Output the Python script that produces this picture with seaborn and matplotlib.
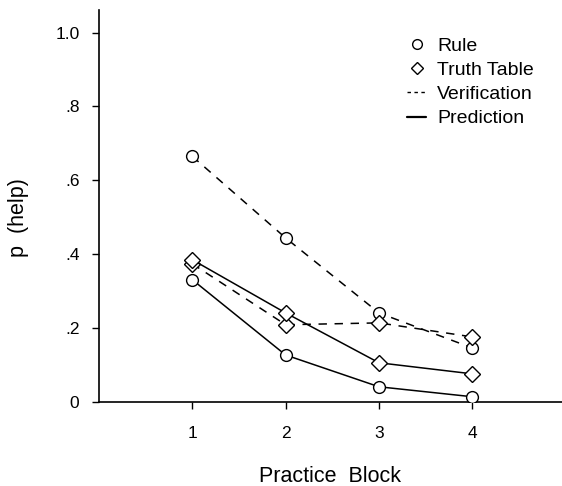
import numpy as np
import matplotlib
matplotlib.use('Agg')
import matplotlib.pyplot as plt
import seaborn as sns
from matplotlib.lines import Line2D

sns.set_theme(style="white")
plt.rcParams['font.family'] = ['Liberation Sans', 'DejaVu Sans']
plt.rcParams['text.color'] = 'black'
plt.rcParams['axes.labelcolor'] = 'black'
plt.rcParams['xtick.color'] = 'black'
plt.rcParams['ytick.color'] = 'black'

blocks = [1, 2, 3, 4]
rule_verification = [0.665, 0.444, 0.241, 0.146]
tt_verification = [0.374, 0.209, 0.214, 0.176]
tt_prediction = [0.385, 0.241, 0.106, 0.076]
rule_prediction = [0.331, 0.127, 0.041, 0.014]

y_ticks = [0, 0.2, 0.4, 0.6, 0.8, 1.0]
y_tick_labels = ['0', '.2', '.4', '.6', '.8', '1.0']

fig = plt.figure(figsize=(5.62, 4.86), dpi=100)
ax = fig.add_axes([0.176, 0.173, 0.824, 0.807])

series = [
    (rule_verification, 'o', (0, (5.5, 5))),
    (tt_verification, 'D', (0, (5.5, 5))),
    (tt_prediction, 'D', '-'),
    (rule_prediction, 'o', '-'),
]
for vals, mk, ls in series:
    sns.lineplot(x=blocks, y=vals, ax=ax, color='black', linewidth=1.1,
                 linestyle=ls, marker=mk,
                 markersize=8.5 if mk == 'o' else 8,
                 markerfacecolor='white', markeredgecolor='black',
                 markeredgewidth=1.0, zorder=3)

ax.set_xlim(0, 4.96)
ax.set_ylim(0, 1.062)
ax.set_xticks(blocks)
ax.set_xticklabels([str(b) for b in blocks], fontsize=12.5)
ax.set_yticks(y_ticks)
ax.set_yticklabels(y_tick_labels, fontsize=12.5)
ax.tick_params(axis='both', direction='out', length=5, width=1, color='black',
               bottom=True, left=True)
ax.tick_params(axis='x', pad=12)
ax.tick_params(axis='y', pad=9)

for s in ['top', 'right']:
    ax.spines[s].set_visible(False)
for s in ['left', 'bottom']:
    ax.spines[s].set_color('black')
    ax.spines[s].set_linewidth(1.2)

ax.set_xlabel('Practice  Block', fontsize=15.5)
ax.xaxis.set_label_coords(0.499, -0.163)
ax.set_ylabel('p  (help)', fontsize=15.5)
ax.yaxis.set_label_coords(-0.15, 0.47)

handles = [
    Line2D([], [], color='black', marker='o', linestyle='none', markersize=7,
           markerfacecolor='white', markeredgewidth=1.0),
    Line2D([], [], color='black', marker='D', linestyle='none', markersize=6.5,
           markerfacecolor='white', markeredgewidth=1.0),
    Line2D([], [], color='black', linestyle=(0, (2.5, 2.5)), linewidth=1),
    Line2D([], [], color='black', linestyle='-', linewidth=1.6),
]
labels = ['Rule', 'Truth Table', 'Verification', 'Prediction']
ax.legend(handles, labels, loc='upper left', bbox_to_anchor=(0.665, 0.93),
          frameon=False, fontsize=14, handlelength=1.0, handletextpad=0.55,
          labelspacing=0.34, borderpad=0, borderaxespad=0)

fig.savefig('out.png', dpi=100)
